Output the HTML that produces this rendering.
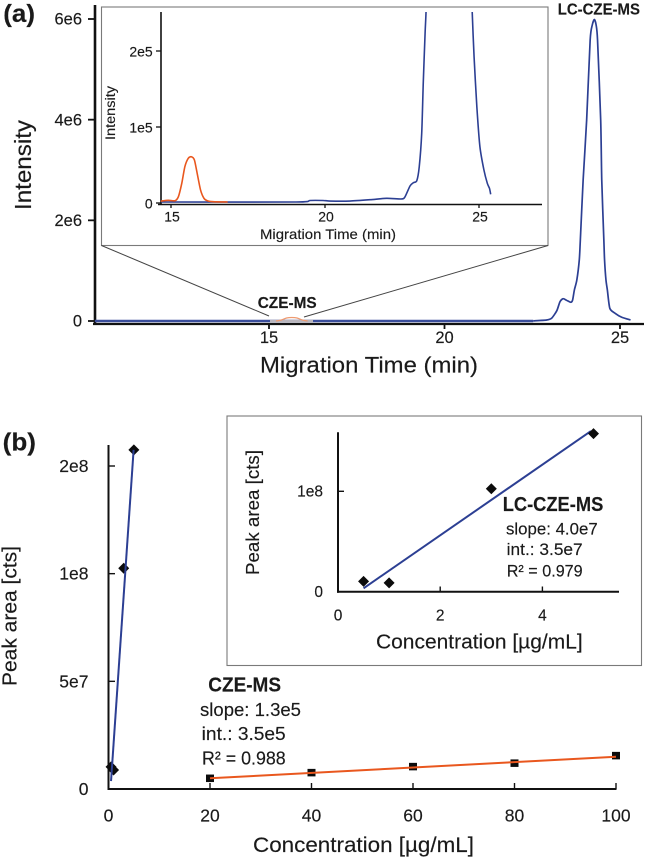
<!DOCTYPE html>
<html lang="en">
<head>
<meta charset="utf-8">
<title>CZE-MS vs LC-CZE-MS</title>
<style>
html,body{margin:0;padding:0;background:#fff;width:645px;height:858px;overflow:hidden}
svg{display:block;font-family:"Liberation Sans",sans-serif;fill:#1a1a1a;filter:blur(0.3px)}
text{stroke:#1a1a1a;stroke-width:0.15px}
</style>
</head>
<body>
<svg id="figure" xmlns="http://www.w3.org/2000/svg" width="645" height="858" viewBox="0 0 645 858">
  <defs>
    <clipPath id="inset-clip"><rect x="155" y="12" width="390" height="194"/></clipPath>
  </defs>
  <g id="panel-a-main"></g>
  <rect x="101.5" y="7" width="446.5" height="238.5" fill="#fff" stroke="#7a7a7a" stroke-width="1.1"/>
  <line x1="101.5" y1="245.5" x2="269" y2="316" stroke="#444" stroke-width="1"/>
  <line x1="548" y1="245.5" x2="304" y2="317" stroke="#444" stroke-width="1"/>
  <g id="panel-a-inset"></g>
  <rect x="227" y="416" width="414.5" height="249.5" fill="#fff" stroke="#7a7a7a" stroke-width="1.1"/>
  <g id="panel-b-main"></g>
  <g id="panel-b-inset"></g>

  <text x="3.3" y="22" font-size="25" font-weight="bold" textLength="31.7" lengthAdjust="spacingAndGlyphs">(a)</text>
  <text x="2.7" y="450.7" font-size="25" font-weight="bold" textLength="33.3" lengthAdjust="spacingAndGlyphs">(b)</text>

  <text x="260" y="372.7" font-size="22" textLength="218" lengthAdjust="spacingAndGlyphs">Migration Time (min)</text>
  <text transform="translate(31,210) rotate(-90)" font-size="23" textLength="90" lengthAdjust="spacingAndGlyphs">Intensity</text>
  <text x="260" y="239" font-size="14" textLength="136" lengthAdjust="spacingAndGlyphs">Migration Time (min)</text>
  <text transform="translate(115,140) rotate(-90)" font-size="13.5" textLength="54" lengthAdjust="spacingAndGlyphs">Intensity</text>
  <text x="257.7" y="308" font-size="15.5" font-weight="bold" textLength="59" lengthAdjust="spacingAndGlyphs">CZE-MS</text>
  <text x="557.7" y="14.7" font-size="15.5" font-weight="bold" textLength="82.3" lengthAdjust="spacingAndGlyphs">LC-CZE-MS</text>

  <text x="253" y="852" font-size="21" textLength="221" lengthAdjust="spacingAndGlyphs">Concentration [µg/mL]</text>
  <text transform="translate(16.7,686) rotate(-90)" font-size="20" textLength="140" lengthAdjust="spacingAndGlyphs">Peak area [cts]</text>
  <text x="376" y="648.3" font-size="20.5" textLength="206.7" lengthAdjust="spacingAndGlyphs">Concentration [µg/mL]</text>
  <text transform="translate(259,575) rotate(-90)" font-size="18.5" textLength="125" lengthAdjust="spacingAndGlyphs">Peak area [cts]</text>

  <text x="502.7" y="511" font-size="20.5" font-weight="bold" textLength="100.6" lengthAdjust="spacingAndGlyphs">LC-CZE-MS</text>
  <text x="506" y="534.3" font-size="17" textLength="91.7" lengthAdjust="spacingAndGlyphs">slope: 4.0e7</text>
  <text x="506.7" y="555" font-size="17" textLength="76" lengthAdjust="spacingAndGlyphs">int.: 3.5e7</text>
  <text x="506.7" y="576.7" font-size="17" textLength="76" lengthAdjust="spacingAndGlyphs">R² = 0.979</text>

  <text x="208.3" y="691.7" font-size="20.5" font-weight="bold" textLength="72.7" lengthAdjust="spacingAndGlyphs">CZE-MS</text>
  <text x="200" y="716" font-size="18.5" textLength="101" lengthAdjust="spacingAndGlyphs">slope: 1.3e5</text>
  <text x="201.7" y="740" font-size="18.5" textLength="84" lengthAdjust="spacingAndGlyphs">int.: 3.5e5</text>
  <text x="202" y="764.3" font-size="18.5" textLength="83.7" lengthAdjust="spacingAndGlyphs">R² = 0.988</text>
</svg>

<script>
// ---------- Panel (a) main electropherogram ----------
const aXTicks = [15, 20, 25];
const aYTicks = [0, 2e6, 4e6, 6e6];
const aYTickLabels = ['0', '2e6', '4e6', '6e6'];
const aBaselineTime = [10.04, 22.53];
const aBaselineIntensity = [0, 0];
const aLcTime = [22.53, 22.91, 23.05, 23.20, 23.29, 23.38, 23.48, 23.60, 23.65, 23.70, 23.77, 23.84, 23.87, 23.95, 24.05, 24.15, 24.21, 24.27, 24.32, 24.36, 24.45, 24.48, 24.54, 24.56, 24.60, 24.64, 24.71, 24.86, 25.05, 25.30];
const aLcIntensity = [3e3, 20e3, 54e3, 205e3, 383e3, 443e3, 410e3, 372e3, 417e3, 616e3, 815e3, 1212e3, 1609e3, 2801e3, 3993e3, 5583e3, 5881e3, 5990e3, 5881e3, 5583e3, 3993e3, 2801e3, 1609e3, 1212e3, 815e3, 616e3, 252e3, 153e3, 74e3, 20e3];
const aCzeTime = [15.2, 15.35, 15.5, 15.65, 15.8, 15.95, 16.1];
const aCzeIntensity = [0, 2e4, 6e4, 7e4, 6e4, 2e4, 0];

// ---------- Panel (a) inset ----------
const iXTicks = [15, 20, 25];
const iYTicks = [0, 1e5, 2e5];
const iYTickLabels = ['0', '1e5', '2e5'];
const iLcTime = [14.68, 19.06, 19.51, 19.94, 20.16, 20.81, 21.46, 22.0, 22.49, 22.6, 22.76, 22.87, 22.98, 23.06, 23.14, 23.19, 23.25, 23.28, 23.31, 24.75, 24.78, 24.84, 24.93, 25.03, 25.16, 25.27, 25.34, 25.38];
const iLcIntensity = [1.3e3, 1.3e3, 3.3e3, 3.3e3, 2.6e3, 2.6e3, 4.3e3, 6.2e3, 5.3e3, 8.3e3, 22.4e3, 26.7e3, 29.3e3, 47.8e3, 91.7e3, 157.5e3, 223.7e3, 251e3, 300e3, 300e3, 251e3, 192.5e3, 126.7e3, 74e3, 43.4e3, 25.9e3, 19.3e3, 11.4e3];
const iCzeTime = [14.67, 14.91, 15.13, 15.24, 15.35, 15.45, 15.56, 15.66, 15.76, 15.85, 15.96, 16.07, 16.18, 16.37, 16.84];
const iCzeIntensity = [2.6e3, 3.5e3, 3e3, 8.3e3, 25.9e3, 47.8e3, 58.8e3, 60.9e3, 56.6e3, 39e3, 17e3, 6.2e3, 3e3, 1.7e3, 1.3e3];

// ---------- Panel (b) calibration ----------
const bXTicks = [0, 20, 40, 60, 80, 100];
const bYTicks = [0, 5e7, 1e8, 1.5e8];
const bYTickLabels = ['0', '5e7', '1e8', '2e8'];
const lcConc = [0.5, 1, 3, 5];
const lcArea = [1.03e7, 8.8e6, 1.025e8, 1.575e8];
const lcFitConc = [0.5, 4.95];
const lcFitAreaMain = [3.7e6, 1.575e8];
const lcFitAreaInset = [3.4e6, 1.6e8];
const czeConc = [20, 40, 60, 80, 100];
const czeArea = [4.97e6, 7.6e6, 1.04e7, 1.2e7, 1.55e7];
const czeFitConc = [20, 100];
const czeFitArea = [4.97e6, 1.5e7];
const bInsetXTicks = [0, 2, 4];
const bInsetYTicks = [0, 1e8];
const bInsetYTickLabels = ['0', '1e8'];

const NS = 'http://www.w3.org/2000/svg';
const BLUE = '#2c3f93';
const ORANGE = '#e9571e';
const INK = '#111';

function scale(d0, d1, r0, r1) {
  return function (v) { return r0 + (v - d0) * (r1 - r0) / (d1 - d0); };
}

function add(parent, tag, name, attrs, content) {
  const el = document.createElementNS(NS, tag);
  
  
  Object.keys(attrs).forEach(function (k) { el.setAttribute(k, attrs[k]); });
  if (content !== undefined) el.textContent = content;
  parent.appendChild(el);
  return el;
}

function smoothPath(xs, ys, fx, fy) {
  const p = xs.map(function (x, i) { return [fx(x), fy(ys[i])]; });
  let d = 'M' + p[0][0].toFixed(2) + ' ' + p[0][1].toFixed(2);
  for (let i = 0; i < p.length - 1; i++) {
    const a = p[Math.max(0, i - 1)], b = p[i], c = p[i + 1], e = p[Math.min(p.length - 1, i + 2)];
    const k = 0.12;
    d += 'C' + (b[0] + (c[0] - a[0]) * k).toFixed(2) + ' ' + (b[1] + (c[1] - a[1]) * k).toFixed(2) + ' ' +
         (c[0] - (e[0] - b[0]) * k).toFixed(2) + ' ' + (c[1] - (e[1] - b[1]) * k).toFixed(2) + ' ' +
         c[0].toFixed(2) + ' ' + c[1].toFixed(2);
  }
  return d;
}

function curve(parent, name, xs, ys, fx, fy, color, width, clip) {
  const attrs = { d: smoothPath(xs, ys, fx, fy), fill: 'none', stroke: color, 'stroke-width': width, 'stroke-linejoin': 'round' };
  if (clip) attrs['clip-path'] = 'url(#' + clip + ')';
  return add(parent, 'path', name, attrs);
}

function fitLine(parent, name, xs, ys, fx, fy, color, width) {
  return add(parent, 'line', name, { x1: fx(xs[0]), y1: fy(ys[0]), x2: fx(xs[1]), y2: fy(ys[1]), stroke: color, 'stroke-width': width });
}

function diamonds(parent, name, xs, ys, fx, fy, r) {
  xs.forEach(function (x, i) {
    const cx = fx(x), cy = fy(ys[i]);
    add(parent, 'polygon', name, { points: [cx - r, cy, cx, cy - r, cx + r, cy, cx, cy + r].join(' '), fill: '#0c0c0c' });
  });
}

function squares(parent, name, xs, ys, fx, fy, w, h) {
  xs.forEach(function (x, i) {
    add(parent, 'rect', name, { x: fx(x) - w / 2, y: fy(ys[i]) - h / 2, width: w, height: h, fill: '#0c0c0c' });
  });
}

function axisLine(parent, name, x1, y1, x2, y2, w) {
  add(parent, 'line', name, { x1: x1, y1: y1, x2: x2, y2: y2, stroke: INK, 'stroke-width': w });
}

// Panel (a) main
(function () {
  const g = document.getElementById('panel-a-main');
  const fx = scale(15, 25, 269, 620);
  const fy = scale(0, 6e6, 321, 19);
  aXTicks.forEach(function (t) {
    axisLine(g, 'a-x-tick', fx(t), 324, fx(t), 329, 1.8);
    add(g, 'text', 'a-x-tick-label', { x: fx(t), y: 343, 'font-size': 16.5, 'text-anchor': 'middle' }, String(t));
  });
  aYTicks.forEach(function (v, i) {
    axisLine(g, 'a-y-tick', 88, fy(v), 95, fy(v), 1.8);
    add(g, 'text', 'a-y-tick-label', { x: 82, y: fy(v) + 5.6, 'font-size': 16.5, 'text-anchor': 'end' }, aYTickLabels[i]);
  });
  axisLine(g, 'a-y-axis', 95, 5, 95, 325, 2.6);
  axisLine(g, 'a-x-axis', 93, 324, 644, 324, 2.2);
  curve(g, 'lc-cze-ms-baseline', aBaselineTime, aBaselineIntensity, fx, fy, '#3a4d9b', 2.6);
  curve(g, 'lc-cze-ms-trace', aLcTime, aLcIntensity, fx, fy, BLUE, 1.7);
  add(g, 'rect', 'zoom-region-highlight', { x: 270, y: 319.8, width: 43, height: 2.6, fill: '#b9b5bd' });
  curve(g, 'cze-ms-trace', aCzeTime, aCzeIntensity, fx, fy, '#ee9a70', 1.2);
})();

// Panel (a) inset
(function () {
  const g = document.getElementById('panel-a-inset');
  const fx = scale(15, 25, 171, 479);
  const fy = scale(0, 2e5, 203, 51);
  iXTicks.forEach(function (t) {
    axisLine(g, 'a-inset-x-tick', fx(t), 204.5, fx(t), 208, 1.3);
    add(g, 'text', 'a-inset-x-tick-label', { x: fx(t) + 1, y: 221.7, 'font-size': 14, 'text-anchor': 'middle' }, String(t));
  });
  iYTicks.forEach(function (v, i) {
    axisLine(g, 'a-inset-y-tick', 156, fy(v), 161, fy(v), 1.3);
    add(g, 'text', 'a-inset-y-tick-label', { x: 152.7, y: fy(v) + 5.3, 'font-size': 14, 'text-anchor': 'end' }, iYTickLabels[i]);
  });
  axisLine(g, 'a-inset-y-axis', 161, 12, 161, 205, 1.6);
  axisLine(g, 'a-inset-x-axis', 158, 204.5, 542, 204.5, 1.6);
  curve(g, 'a-inset-lc-cze-ms-trace', iLcTime, iLcIntensity, fx, fy, BLUE, 1.6, 'inset-clip');
  curve(g, 'a-inset-cze-ms-trace', iCzeTime, iCzeIntensity, fx, fy, ORANGE, 1.6, 'inset-clip');
})();

// Panel (b) main
(function () {
  const g = document.getElementById('panel-b-main');
  const fx = scale(0, 100, 108.5, 616);
  const fy = scale(0, 1.5e8, 789, 466);
  bXTicks.forEach(function (c) {
    axisLine(g, 'b-x-tick', fx(c), 789, fx(c), 783, 1.4);
    add(g, 'text', 'b-x-tick-label', { x: fx(c), y: 821.7, 'font-size': 17.5, 'text-anchor': 'middle' }, String(c));
  });
  bYTicks.forEach(function (v, i) {
    axisLine(g, 'b-y-tick', 108.5, fy(v), 115, fy(v), 1.4);
    add(g, 'text', 'b-y-tick-label', { x: 88.5, y: fy(v) + 6, 'font-size': 17.5, 'text-anchor': 'end' }, bYTickLabels[i]);
  });
  axisLine(g, 'b-y-axis', 108.5, 445, 108.5, 790, 2);
  axisLine(g, 'b-x-axis', 107.5, 789, 616.5, 789, 2);
  squares(g, 'cze-ms-point', czeConc, czeArea, fx, fy, 8, 7.5);
  diamonds(g, 'lc-cze-ms-point', lcConc, lcArea, fx, fy, 5.5);
  fitLine(g, 'lc-cze-ms-fit-line', lcFitConc, lcFitAreaMain, fx, fy, BLUE, 2);
  fitLine(g, 'cze-ms-fit-line', czeFitConc, czeFitArea, fx, fy, ORANGE, 2);
})();

// Panel (b) inset
(function () {
  const g = document.getElementById('panel-b-inset');
  const fx = scale(0, 4, 338, 542.4);
  const fy = scale(0, 1e8, 591.7, 491.3);
  bInsetXTicks.forEach(function (c) {
    if (c !== 0) axisLine(g, 'b-inset-x-tick', fx(c), 591.7, fx(c), 586.5, 1.4);
    add(g, 'text', 'b-inset-x-tick-label', { x: fx(c), y: 620.7, 'font-size': 15.5, 'text-anchor': 'middle' }, String(c));
  });
  bInsetYTicks.forEach(function (v, i) {
    if (v !== 0) axisLine(g, 'b-inset-y-tick', 338, fy(v), 344, fy(v), 1.4);
    add(g, 'text', 'b-inset-y-tick-label', { x: 323, y: fy(v) + 5.3, 'font-size': 15.5, 'text-anchor': 'end' }, bInsetYTickLabels[i]);
  });
  axisLine(g, 'b-inset-y-axis', 338, 432.3, 338, 592.7, 2);
  axisLine(g, 'b-inset-x-axis', 337, 591.7, 619, 591.7, 2);
  fitLine(g, 'b-inset-lc-cze-ms-fit-line', lcFitConc, lcFitAreaInset, fx, fy, BLUE, 2);
  diamonds(g, 'b-inset-lc-cze-ms-point', lcConc, lcArea, fx, fy, 5.5);
})();
</script>
</body>
</html>
